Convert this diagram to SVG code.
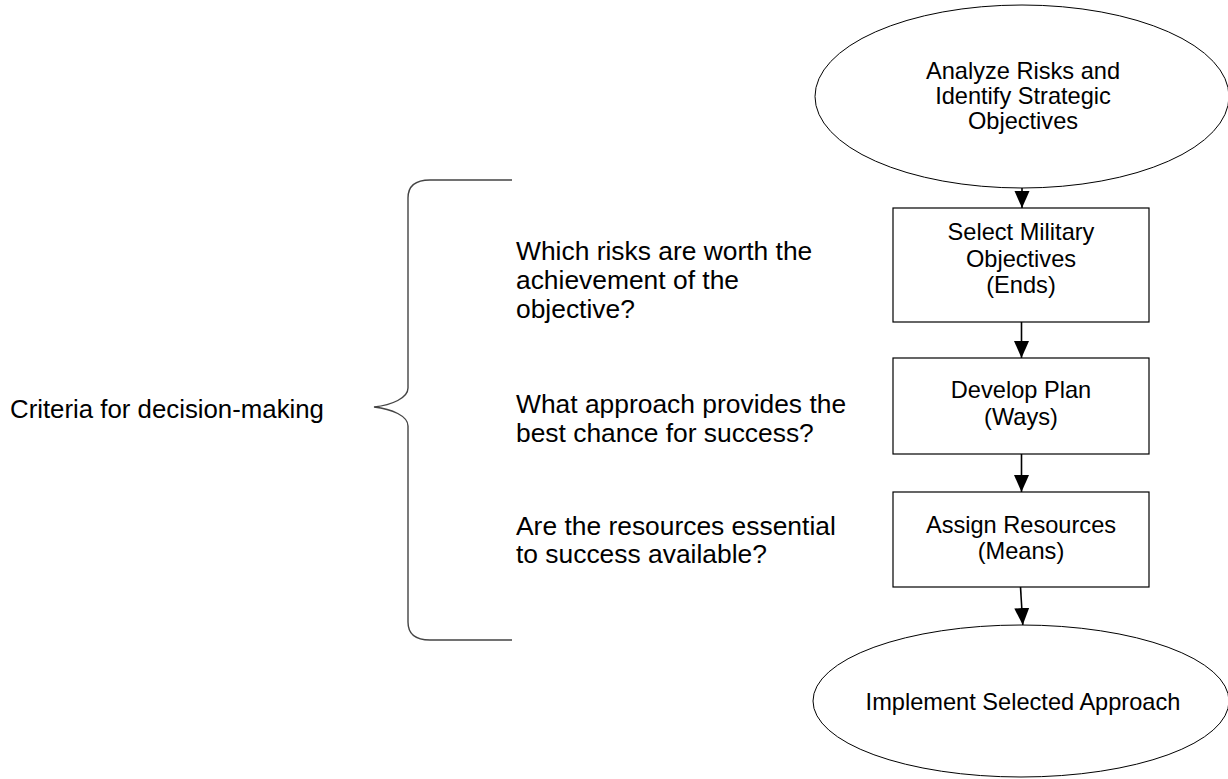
<svg xmlns="http://www.w3.org/2000/svg" width="1228" height="779" viewBox="0 0 1228 779">
<style>
.shape{fill:#fff;stroke:#000;stroke-width:1.2}
.oval{fill:#fff;stroke:#000;stroke-width:1}
.node{font-family:"Liberation Sans",Arial,sans-serif;font-size:23.6px;fill:#000;text-anchor:middle}
.q{font-family:"Liberation Sans",Arial,sans-serif;font-size:26.4px;fill:#000}
.conn{stroke:#000;stroke-width:1.6;fill:none;marker-end:url(#arr)}
.brace{stroke:#444;stroke-width:1.4;fill:none}
</style>
<defs>
<marker id="arr" markerUnits="userSpaceOnUse" markerWidth="17" markerHeight="16" viewBox="0 0 17 16" refX="17" refY="8" orient="auto">
<path d="M0,0.5 L17,8 L0,15.5 Z" fill="#000"/>
</marker>
</defs>
<rect width="1228" height="779" fill="#fff"/>
<g id="connectors">
<line class="conn" x1="1022" y1="188" x2="1022" y2="208"/>
<line class="conn" x1="1021.5" y1="322" x2="1021.5" y2="358"/>
<line class="conn" x1="1021.5" y1="454" x2="1021.5" y2="492"/>
<line class="conn" x1="1020.5" y1="587" x2="1022.8" y2="625"/>
</g>
<g id="n-analyze">
<ellipse class="oval" cx="1022" cy="96.5" rx="207" ry="91.5"/>
<text class="node" x="1023" y="79">Analyze Risks and</text>
<text class="node" x="1023" y="104">Identify Strategic</text>
<text class="node" x="1023" y="129">Objectives</text>
</g>
<g id="n-select">
<rect class="shape" x="893" y="208" width="256" height="114"/>
<text class="node" x="1021" y="240">Select Military</text>
<text class="node" x="1021" y="267">Objectives</text>
<text class="node" x="1021" y="293">(Ends)</text>
</g>
<g id="n-develop">
<rect class="shape" x="893" y="358" width="256" height="96"/>
<text class="node" x="1021" y="398">Develop Plan</text>
<text class="node" x="1021" y="425">(Ways)</text>
</g>
<g id="n-assign">
<rect class="shape" x="893" y="492" width="256" height="95"/>
<text class="node" x="1021" y="533">Assign Resources</text>
<text class="node" x="1021" y="559">(Means)</text>
</g>
<g id="n-implement">
<ellipse class="oval" cx="1021" cy="701" rx="208" ry="76"/>
<text class="node" x="1023" y="710">Implement Selected Approach</text>
</g>
<g id="brace">
<path class="brace" d="M512,180 L430,180 C415,180 408,186 408,198 L408,388 C408,398 392,405 374,407 C392,409 408,416 408,426 L408,622 C408,634 415,640 430,640 L512,640"/>
</g>
<g id="criteria">
<text class="q" x="10" y="418" style="font-size:25.8px">Criteria for decision-making</text>
</g>
<g id="questions">
<text class="q" x="516" y="259.5">Which risks are worth the</text>
<text class="q" x="516" y="288.5">achievement of the</text>
<text class="q" x="516" y="317.5">objective?</text>
<text class="q" x="516" y="413">What approach provides the</text>
<text class="q" x="516" y="441.5">best chance for success?</text>
<text class="q" x="516" y="535">Are the resources essential</text>
<text class="q" x="516" y="563">to success available?</text>
</g>
</svg>
